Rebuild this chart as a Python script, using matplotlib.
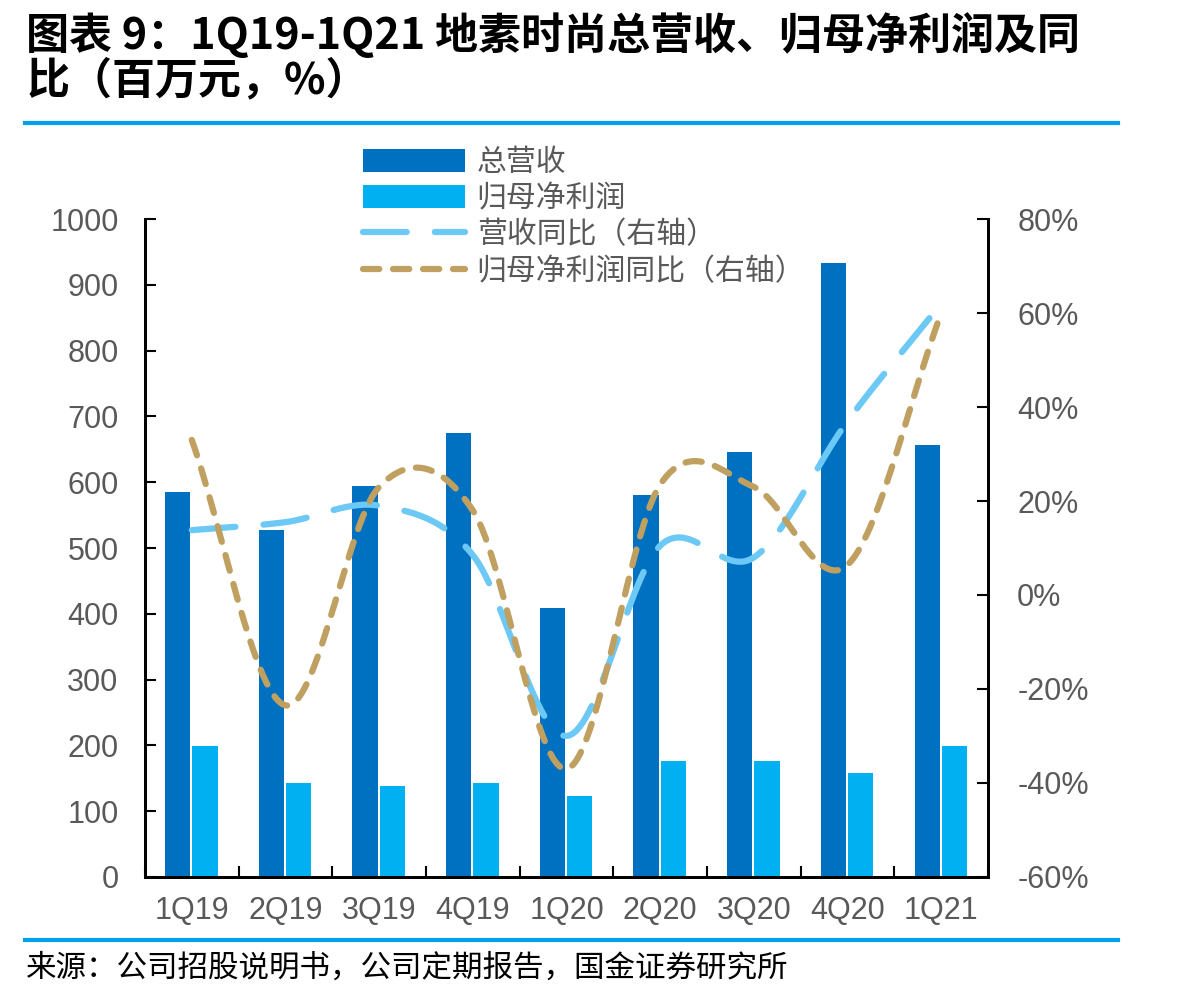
import numpy as np
import matplotlib.pyplot as plt
from matplotlib.ticker import FuncFormatter

quarters = ["1Q19", "2Q19", "3Q19", "4Q19", "1Q20", "2Q20", "3Q20", "4Q20", "1Q21"]
revenue = [585, 527, 594, 675, 409, 580, 646, 933, 656]
net_profit = [199, 143, 138, 143, 123, 176, 176, 158, 199]
revenue_yoy = [13.8, 15.5, 19.0, 8.5, -30.0, 10.5, 8.0, 37.0, 62.0]
profit_yoy = [33.0, -23.5, 23.0, 18.0, -37.0, 23.5, 23.0, 6.4, 60.0]

cjk = ['Noto Sans CJK SC', 'DejaVu Sans']
grey = '#595959'


def smooth(xs, ys, n=30):
    # Catmull-Rom style smoothing like Excel's smoothed line
    xs = np.asarray(xs, float)
    ys = np.asarray(ys, float)
    px = np.concatenate([[2 * xs[0] - xs[1]], xs, [2 * xs[-1] - xs[-2]]])
    py = np.concatenate([[2 * ys[0] - ys[1]], ys, [2 * ys[-1] - ys[-2]]])
    outx, outy = [], []
    t = np.linspace(0, 1, n)
    for i in range(1, len(px) - 2):
        for arr, out in ((px, outx), (py, outy)):
            p0, p1, p2, p3 = arr[i - 1], arr[i], arr[i + 1], arr[i + 2]
            out.extend(0.5 * (2 * p1 + (-p0 + p2) * t
                              + (2 * p0 - 5 * p1 + 4 * p2 - p3) * t ** 2
                              + (-p0 + 3 * p1 - 3 * p2 + p3) * t ** 3))
    return np.array(outx), np.array(outy)


fig = plt.figure(figsize=(12.01, 9.97), dpi=100)
ax = fig.add_axes([0.1207, 0.1204, 0.702, 0.6599])
ax2 = ax.twinx()

x = np.arange(len(quarters))
w = 0.27
b1 = ax.bar(x - 0.15, revenue, w, color='#0070C0', label='总营收', zorder=2)
b2 = ax.bar(x + 0.14, net_profit, w, color='#00B0F0', label='归母净利润', zorder=2)

sx, sy = smooth(x, revenue_yoy)
l1, = ax2.plot(sx, sy, color='#6CC8F5', lw=4.5, dashes=(7, 4.5),
               solid_capstyle='round', dash_capstyle='round', label='营收同比（右轴）')
sx, sy = smooth(x, profit_yoy)
l2, = ax2.plot(sx, sy, color='#C0A060', lw=4.5, dashes=(2.6, 2.2),
               dash_capstyle='round', label='归母净利润同比（右轴）')

ax.set_xlim(-0.5, 8.5)
ax.set_ylim(0, 1000)
ax.set_yticks(range(0, 1001, 100))
ax2.set_ylim(-60, 80)
ax2.set_yticks(range(-60, 81, 20))
ax2.yaxis.set_major_formatter(FuncFormatter(lambda v, p: f"{v:.0f}%"))

ax.set_xticks(x)
ax.set_xticklabels(quarters)
ax.set_xticks(np.arange(-0.5, 9, 1), minor=True)
ax.tick_params(axis='x', which='major', length=0, pad=14)
ax.tick_params(axis='x', which='minor', direction='in', length=8, width=1.5)
ax.tick_params(axis='y', direction='in', length=8, width=1.5, pad=19)
ax2.tick_params(axis='y', direction='in', length=8, width=1.5, pad=21)
for a in (ax, ax2):
    for lab in a.get_xticklabels() + a.get_yticklabels():
        lab.set_fontfamily(['Liberation Sans', 'DejaVu Sans'])
        lab.set_fontsize(22)
        lab.set_color(grey)
    a.spines['top'].set_visible(False)
    for s in ('left', 'right', 'bottom'):
        a.spines[s].set_linewidth(2)

leg = fig.legend([b1, b2, l1, l2], ['总营收', '归母净利润', '营收同比（右轴）', '归母净利润同比（右轴）'],
                 loc='upper left', bbox_to_anchor=(0.29, 0.868), frameon=False,
                 prop={'family': cjk, 'size': 21.5}, handlelength=3.4, handleheight=0.8,
                 labelspacing=0.18, handletextpad=0.4, borderpad=0)
for t in leg.get_texts():
    t.set_color(grey)

fig.text(0.022, 0.965, "图表 9：1Q19-1Q21 地素时尚总营收、归母净利润及同", family=cjk,
         fontsize=31, fontweight='bold', style='italic', va='center')
fig.text(0.022, 0.919, "比（百万元，%）", family=cjk,
         fontsize=31, fontweight='bold', style='italic', va='center')
fig.add_artist(plt.Line2D([0.021, 0.931], [0.877, 0.877], color='#00A0E9', lw=3,
                          transform=fig.transFigure))
fig.add_artist(plt.Line2D([0.021, 0.931], [0.057, 0.057], color='#00A0E9', lw=3,
                          transform=fig.transFigure))
fig.text(0.022, 0.029, "来源：公司招股说明书，公司定期报告，国金证券研究所", family=cjk,
         fontsize=22, va='center')

fig.savefig('out.png', dpi=100)
